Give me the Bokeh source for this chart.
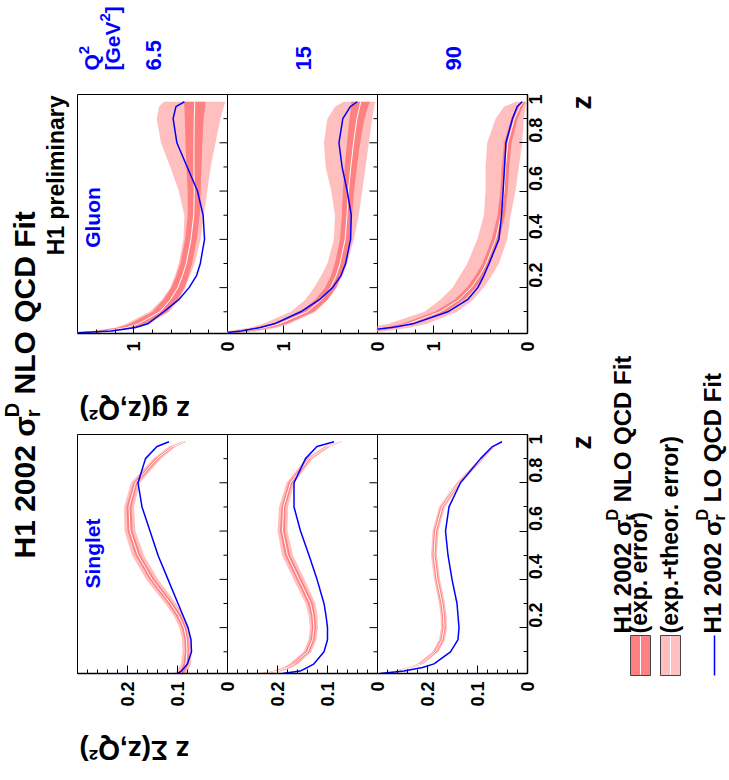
import math
from bokeh.plotting import figure
from bokeh.layouts import row, column
from bokeh.models import Range1d, LinearAxis, FixedTicker, NumeralTickFormatter, Label
from bokeh.embed import file_html
from bokeh.resources import INLINE

# ---------------- data ----------------
Z = [0.01, 0.02, 0.035, 0.05, 0.1, 0.15, 0.2, 0.25, 0.3, 0.4, 0.5, 0.6, 0.7, 0.8, 0.9, 0.95, 0.97]
Q2_LABELS = ["6.5", "15", "90"]

# Gluon  z g(z,Q2)
G65_C   = [1.65, 1.30, 1.07, 0.95, 0.72, 0.61, 0.53, 0.48, 0.44, 0.39, 0.36, 0.355, 0.358, 0.358, 0.355, 0.35, 0.35]
G65_ELO = [1.53, 1.20, 0.98, 0.86, 0.64, 0.535, 0.46, 0.415, 0.378, 0.328, 0.295, 0.285, 0.278, 0.268, 0.255, 0.24, 0.235]
G65_EHI = [1.77, 1.40, 1.16, 1.04, 0.80, 0.685, 0.60, 0.545, 0.502, 0.452, 0.425, 0.425, 0.438, 0.448, 0.455, 0.46, 0.465]
G65_TLO = [1.48, 1.17, 0.95, 0.84, 0.62, 0.52, 0.45, 0.40, 0.35, 0.287, 0.252, 0.216, 0.18, 0.128, 0.075, 0.04, 0.022]
G65_THI = [1.82, 1.44, 1.19, 1.08, 0.83, 0.70, 0.61, 0.56, 0.52, 0.47, 0.46, 0.52, 0.61, 0.71, 0.755, 0.73, 0.68]
G65_LO  = [1.75, 1.24, 0.98, 0.85, 0.68, 0.52, 0.41, 0.33, 0.29, 0.245, 0.26, 0.32, 0.43, 0.54, 0.58, 0.55, 0.46]

G15_C   = [1.72, 1.42, 1.20, 1.05, 0.75, 0.60, 0.50, 0.44, 0.40, 0.345, 0.325, 0.31, 0.285, 0.255, 0.22, 0.19, 0.18]
G15_ELO = [1.62, 1.33, 1.12, 0.97, 0.68, 0.535, 0.44, 0.385, 0.345, 0.29, 0.27, 0.25, 0.22, 0.185, 0.14, 0.10, 0.08]
G15_EHI = [1.82, 1.51, 1.28, 1.13, 0.82, 0.665, 0.56, 0.495, 0.455, 0.40, 0.38, 0.37, 0.35, 0.325, 0.30, 0.28, 0.28]
G15_TLO = [1.55, 1.28, 1.06, 0.94, 0.66, 0.53, 0.44, 0.37, 0.323, 0.252, 0.199, 0.163, 0.128, 0.092, 0.057, 0.035, 0.021]
G15_THI = [1.90, 1.60, 1.35, 1.22, 0.926, 0.77, 0.677, 0.60, 0.535, 0.465, 0.454, 0.493, 0.553, 0.571, 0.535, 0.45, 0.36]
G15_LO  = [1.70, 1.45, 1.25, 1.10, 0.82, 0.62, 0.48, 0.39, 0.34, 0.287, 0.28, 0.323, 0.378, 0.411, 0.37, 0.29, 0.216]

G90_C   = [1.90, 1.70, 1.45, 1.28, 0.93, 0.73, 0.60, 0.51, 0.44, 0.34, 0.28, 0.25, 0.235, 0.21, 0.14, 0.08, 0.045]
G90_ELO = [1.82, 1.63, 1.38, 1.22, 0.87, 0.68, 0.55, 0.465, 0.40, 0.30, 0.24, 0.21, 0.195, 0.17, 0.105, 0.05, 0.02]
G90_EHI = [1.98, 1.77, 1.52, 1.34, 0.99, 0.78, 0.65, 0.555, 0.48, 0.38, 0.32, 0.29, 0.275, 0.25, 0.175, 0.11, 0.07]
G90_TLO = [1.70, 1.50, 1.25, 1.07, 0.75, 0.58, 0.47, 0.38, 0.305, 0.216, 0.18, 0.128, 0.092, 0.057, 0.039, 0.02, 0.011]
G90_THI = [2.20, 1.95, 1.70, 1.48, 1.10, 0.93, 0.80, 0.72, 0.642, 0.535, 0.465, 0.447, 0.447, 0.43, 0.34, 0.25, 0.12]
G90_LO  = [1.90, 1.75, 1.45, 1.22, 0.85, 0.64, 0.53, 0.465, 0.41, 0.305, 0.277, 0.26, 0.245, 0.23, 0.16, 0.11, 0.056]

# Singlet  z Sigma(z,Q2)
S65_C   = [0.095, 0.09, 0.086, 0.083, 0.081, 0.082, 0.087, 0.098, 0.114, 0.151, 0.179, 0.195, 0.197, 0.184, 0.141, 0.11, 0.087]
S65_ELO = [0.089, 0.085, 0.081, 0.078, 0.077, 0.078, 0.083, 0.093, 0.109, 0.146, 0.174, 0.190, 0.192, 0.180, 0.137, 0.107, 0.084]
S65_EHI = [0.101, 0.095, 0.091, 0.088, 0.085, 0.086, 0.091, 0.103, 0.119, 0.156, 0.184, 0.200, 0.202, 0.188, 0.145, 0.113, 0.090]
S65_TLO = [0.083, 0.079, 0.076, 0.073, 0.072, 0.073, 0.078, 0.088, 0.103, 0.139, 0.167, 0.184, 0.187, 0.175, 0.133, 0.103, 0.081]
S65_THI = [0.107, 0.101, 0.096, 0.093, 0.090, 0.091, 0.096, 0.108, 0.125, 0.163, 0.191, 0.206, 0.207, 0.193, 0.149, 0.117, 0.093]
S65_LO  = [0.10, 0.092, 0.086, 0.08, 0.072, 0.073, 0.079, 0.089, 0.099, 0.119, 0.139, 0.155, 0.171, 0.179, 0.164, 0.141, 0.117]

S15_C   = [0.23, 0.20, 0.18, 0.167, 0.14, 0.13, 0.127, 0.129, 0.134, 0.157, 0.18, 0.19, 0.188, 0.174, 0.137, 0.10, 0.074]
S15_ELO = [0.224, 0.195, 0.176, 0.163, 0.136, 0.126, 0.123, 0.125, 0.129, 0.152, 0.175, 0.185, 0.184, 0.170, 0.134, 0.097, 0.072]
S15_EHI = [0.236, 0.205, 0.184, 0.171, 0.144, 0.134, 0.131, 0.133, 0.139, 0.162, 0.185, 0.195, 0.192, 0.178, 0.140, 0.103, 0.076]
S15_TLO = [0.218, 0.19, 0.171, 0.158, 0.132, 0.122, 0.119, 0.120, 0.124, 0.146, 0.169, 0.180, 0.179, 0.166, 0.130, 0.094, 0.069]
S15_THI = [0.242, 0.21, 0.189, 0.176, 0.148, 0.138, 0.135, 0.138, 0.144, 0.168, 0.191, 0.200, 0.197, 0.182, 0.144, 0.106, 0.079]
S15_LO  = [0.19, 0.155, 0.14, 0.127, 0.107, 0.10, 0.10, 0.103, 0.107, 0.121, 0.137, 0.154, 0.167, 0.167, 0.144, 0.121, 0.087]

S90_C   = [0.294, 0.261, 0.235, 0.214, 0.184, 0.171, 0.167, 0.168, 0.171, 0.181, 0.187, 0.184, 0.171, 0.137, 0.091, 0.068, 0.051]
S90_ELO = [0.290, 0.258, 0.232, 0.211, 0.181, 0.168, 0.164, 0.165, 0.168, 0.178, 0.184, 0.181, 0.168, 0.135, 0.089, 0.067, 0.050]
S90_EHI = [0.298, 0.264, 0.238, 0.217, 0.187, 0.174, 0.170, 0.171, 0.174, 0.184, 0.190, 0.187, 0.174, 0.139, 0.093, 0.069, 0.052]
S90_TLO = [0.286, 0.254, 0.229, 0.208, 0.178, 0.165, 0.161, 0.162, 0.165, 0.175, 0.181, 0.178, 0.165, 0.132, 0.087, 0.065, 0.049]
S90_THI = [0.302, 0.268, 0.241, 0.220, 0.190, 0.177, 0.173, 0.174, 0.177, 0.187, 0.193, 0.190, 0.177, 0.142, 0.095, 0.071, 0.053]
S90_LO  = [0.294, 0.247, 0.21, 0.187, 0.154, 0.139, 0.137, 0.139, 0.141, 0.151, 0.159, 0.164, 0.157, 0.134, 0.094, 0.07, 0.051]

G_MAJOR = [0, 1]
G_MINOR = [0.2, 0.4, 0.6, 0.8, 1.2, 1.4]
S_MAJOR = [0, 0.1, 0.2]
S_MINOR = [0.02, 0.04, 0.06, 0.08, 0.12, 0.14, 0.16, 0.18, 0.22, 0.24, 0.26, 0.28]
Z_MAJOR = [0.2, 0.4, 0.6, 0.8, 1.0]
Z_MINOR = [0.1, 0.3, 0.5, 0.7, 0.9]

# ---------------- style / geometry ----------------
FONT = "Liberation Sans"
BLUE = "#0000FF"
LIGHT = "#FFBFBF"
DARK = "#FF8080"
PW, FH, BB, RB, OV = 150, 239, 40, 36, 10
ZMIN = 0.01
UP = math.pi / 2
SHIFT = 0.31  # baseline correction (fraction of font size)

W = {' ': .278, '(': .333, ')': .333, '.': .278, '+': .584, ',': .278, 'D': .722, 'F': .611,
     'G': .778, 'H': .722, 'L': .611, 'N': .722, 'O': .778, 'Q': .778, 'C': .722, 'S': .667,
     'V': .667, '[': .333, ']': .333, 'a': .556, 'e': .556, 'g': .611, 'h': .611, 'i': .278,
     'l': .278, 'm': .889, 'n': .611, 'o': .611, 'p': .611, 'r': .389, 't': .333, 'x': .556,
     'y': .556, 'z': .5, '²': .333, 'σ': .62, 'Σ': .6}


def tw(s, size):
    return sum(W.get(ch, .556) for ch in s) * size


def label(p, x, y, s, size, color="black", angle=UP, align="left"):
    p.add_layout(Label(x=x, y=y, text=s, angle=angle, text_font=FONT, text_font_style="bold",
                       text_font_size=f"{size}px", text_color=color, text_align=align,
                       text_baseline="alphabetic"))


def txt(p, xb, y, s, size, color="black", align="left"):
    # vertical text (reading bottom to top), xb = baseline position in pixels
    label(p, xb - SHIFT * size, y, s, size, color=color, align=align)


def sigma_text(p, xb, y0, size, post):
    pre = "H1 2002 σ"
    txt(p, xb, y0, pre, size)
    ys = y0 - tw(pre, size) - 0.03 * size
    small = round(0.65 * size)
    txt(p, xb + 0.2 * size, ys, "r", small)
    txt(p, xb - 0.5 * size, ys, "D", small)
    y2 = ys - tw("D", small) - W[' '] * size
    txt(p, xb, y2, post, size)


def sup_text(p, xb, y0, size, pre, post, color):
    # text with a raised "2" (vertical, reading bottom to top)
    txt(p, xb, y0, pre, size, color=color)
    small = round(0.7 * size)
    ys = y0 - tw(pre, size)
    txt(p, xb - 0.45 * size, ys, "2", small, color=color)
    if post:
        txt(p, xb, ys - 0.556 * small, post, size, color=color)


def text_fig(x0, x1, y0, y1):
    p = figure(width=x1 - x0, height=y1 - y0, x_range=Range1d(x0, x1), y_range=Range1d(y1, y0),
               x_axis_type=None, y_axis_type=None, toolbar_location=None, output_backend="svg",
               min_border=0)
    p.outline_line_color = None
    return p


def style_axis(ax):
    ax.major_label_text_font = FONT
    ax.major_label_text_font_style = "bold"
    ax.major_label_text_font_size = "18px"
    ax.major_label_text_color = "black"
    ax.major_tick_in = 8
    ax.major_tick_out = 0
    ax.minor_tick_in = 4
    ax.minor_tick_out = 0
    ax.axis_line_width = 1.5
    ax.major_tick_line_width = 1
    ax.minor_tick_line_width = 1
    ax.major_label_standoff = 8


def panel(vmax, major, minor, zlabels, tlo, thi, elo, ehi, c, lo):
    # panels followed by a neighbour get a small transparent overlap so that
    # the "0" tick label at the shared edge is not cut
    right = RB if zlabels else OV
    p = figure(width=PW + right, height=FH + BB, x_range=Range1d(vmax, 0), y_range=Range1d(ZMIN, 1.0),
               x_axis_type=None, y_axis_type=None, toolbar_location=None, output_backend="svg",
               min_border_left=0, min_border_right=right, min_border_top=0, min_border_bottom=BB)
    if not zlabels:
        p.margin = (0, -OV, 0, 0)
    p.border_fill_color = None
    p.background_fill_color = None
    p.outline_line_color = "black"
    p.outline_line_width = 1
    p.harea(y=Z, x1=tlo, x2=thi, fill_color=LIGHT)
    p.harea(y=Z, x1=elo, x2=ehi, fill_color=DARK)
    p.line(x=c, y=Z, line_color="white", line_width=1)
    p.line(x=lo, y=Z, line_color=BLUE, line_width=1.5)
    xa = LinearAxis(ticker=FixedTicker(ticks=major, minor_ticks=minor),
                    formatter=NumeralTickFormatter(format="0.[0]"))
    style_axis(xa)
    xa.major_label_orientation = UP
    p.add_layout(xa, "below")
    if zlabels:
        za = LinearAxis(ticker=FixedTicker(ticks=Z_MAJOR, minor_ticks=Z_MINOR),
                        formatter=NumeralTickFormatter(format="0.[0]"))
        style_axis(za)
        za.major_label_orientation = UP
        p.add_layout(za, "right")
    else:
        # inward z ticks on the shared edge (half of each dash falls outside the frame)
        p.scatter(x=[0] * len(Z_MAJOR), y=Z_MAJOR, marker="dash", size=16, line_color="black", line_width=1)
        p.scatter(x=[0] * len(Z_MINOR), y=Z_MINOR, marker="dash", size=8, line_color="black", line_width=1)
    return p


g65 = panel(1.6, G_MAJOR, G_MINOR, False, G65_TLO, G65_THI, G65_ELO, G65_EHI, G65_C, G65_LO)
g15 = panel(1.6, G_MAJOR, G_MINOR, False, G15_TLO, G15_THI, G15_ELO, G15_EHI, G15_C, G15_LO)
g90 = panel(1.6, G_MAJOR, G_MINOR, True, G90_TLO, G90_THI, G90_ELO, G90_EHI, G90_C, G90_LO)
s65 = panel(0.3, S_MAJOR, S_MINOR, False, S65_TLO, S65_THI, S65_ELO, S65_EHI, S65_C, S65_LO)
s15 = panel(0.3, S_MAJOR, S_MINOR, False, S15_TLO, S15_THI, S15_ELO, S15_EHI, S15_C, S15_LO)
s90 = panel(0.3, S_MAJOR, S_MINOR, True, S90_TLO, S90_THI, S90_ELO, S90_EHI, S90_C, S90_LO)

# panel names: baseline 99 px from the picture's left edge of column 77..227
label(g65, (227 - 99 + SHIFT * 21) / 93.75, 0.365, "Gluon", 21, color=BLUE)
label(s65, (227 - 99 + SHIFT * 21) / 500.0, 0.362, "Singlet", 21, color=BLUE)

# ---------------- text areas ----------------
top = text_fig(0, 729, 0, 94)
sup_text(top, 98, 70, 21, "Q", "", BLUE)
sup_text(top, 119, 70, 21, "[GeV", "]", BLUE)
for i, lab in enumerate(Q2_LABELS):
    txt(top, 77 + PW * i + PW / 2 + 8, 70, lab, 22, color=BLUE)

left = text_fig(0, 77, 94, 780)
sigma_text(left, 33, 558, 30, "NLO QCD Fit")
txt(left, 63, 95, "H1 preliminary", 23, align="right")

mid_w = 3 * PW + RB
gap = text_fig(77, 77 + mid_w, 94 + FH + BB, 434)
label(gap, 79, 401 + SHIFT * 28, "z g(z,Q²)", 28, angle=math.pi, align="right")
bottom = text_fig(77, 77 + mid_w, 434 + FH + BB, 780)
label(bottom, 79, 741 + SHIFT * 28, "z Σ(z,Q²)", 28, angle=math.pi, align="right")

rx0 = 77 + mid_w
right = text_fig(rx0, 729, 94, 780)
txt(right, 590, 95, "z", 28, align="right")
txt(right, 590, 435, "z", 28, align="right")
sigma_text(right, 629, 633, 24, "NLO QCD Fit")
txt(right, 646, 633, "(exp. error)", 23)
txt(right, 677, 633, "(exp.+theor. error)", 23)
sigma_text(right, 719, 633, 24, "LO QCD Fit")
right.quad(left=[630], right=[650], top=[635], bottom=[675], fill_color=DARK, line_color="#444444", line_width=1)
right.quad(left=[660], right=[680], top=[635], bottom=[675], fill_color=LIGHT, line_color="#444444", line_width=1)
right.segment(x0=[640, 670], y0=[636, 636], x1=[640, 670], y1=[674, 674], line_color="white", line_width=1)
right.segment(x0=[714], y0=[635], x1=[714], y1=[675], line_color=BLUE, line_width=1.5)

mid = column(row(g65, g15, g90), gap, row(s65, s15, s90), bottom)
layout = column(top, row(left, mid, right))

open("out.html", "w").write(file_html(layout, INLINE))
